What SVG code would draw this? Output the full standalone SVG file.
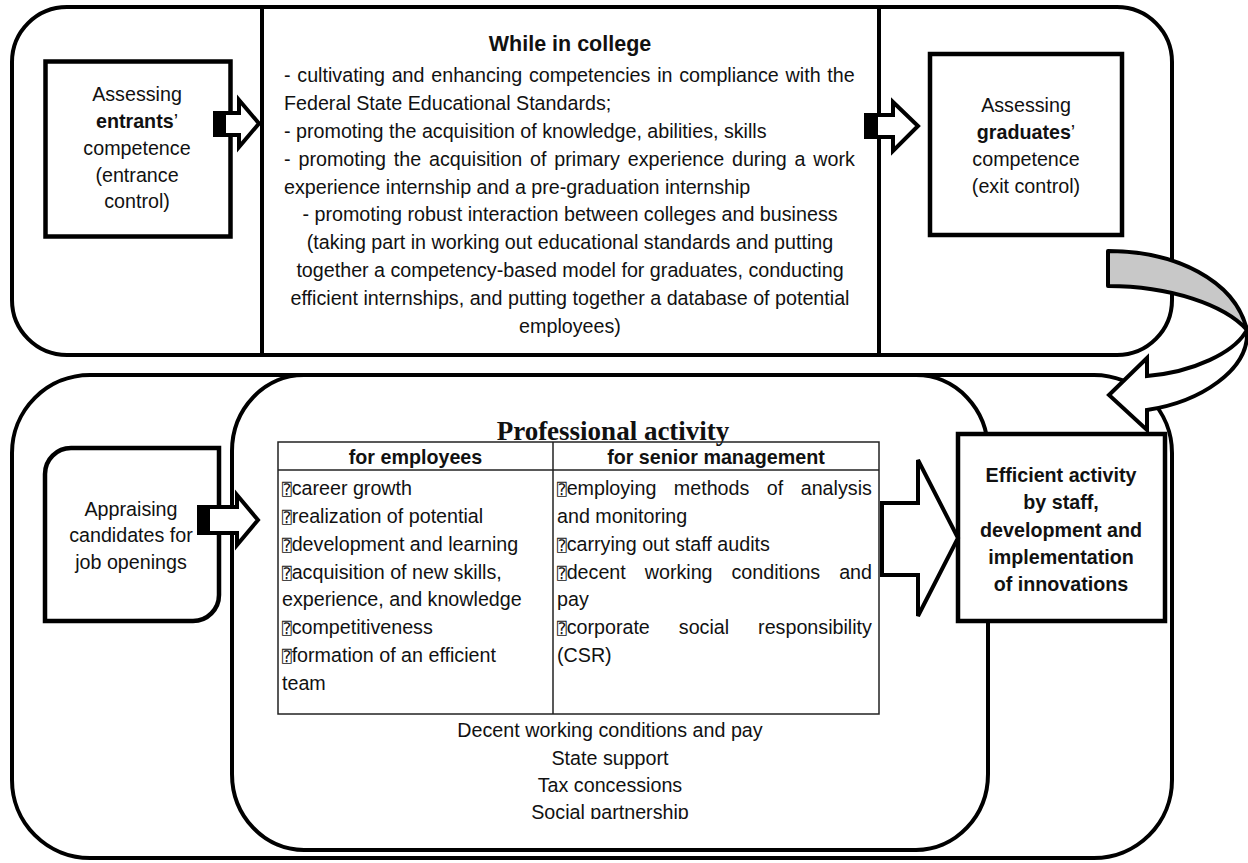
<svg xmlns="http://www.w3.org/2000/svg" width="1248" height="863" viewBox="0 0 1248 863">
  <style>
    .frame { fill: #fff; stroke: #000; stroke-width: 4; }
    .box { fill: #fff; stroke: #000; stroke-width: 4.5; }
    .grid { fill: none; stroke: #222; stroke-width: 1.5; }
    .arrow { fill: #fff; stroke: #000; stroke-width: 4; stroke-linejoin: miter; }
    .t { font-family: "Liberation Sans", Arial, sans-serif; font-size: 19.7px; fill: #111; }
    .b { font-weight: bold; }
    .c { text-anchor: middle; }
    .e { text-anchor: end; }
    .serif { font-family: "Liberation Serif", "Times New Roman", serif; font-weight: bold; font-size: 27px; fill: #111; }
    .g { font-family: "DejaVu Sans Mono", "DejaVu Sans", monospace; font-size: 16px; font-weight: normal; }
  </style>
  <defs>
    <clipPath id="innerClip">
      <rect x="232" y="375" width="756" height="444"/>
    </clipPath>
  </defs>

  <rect width="1248" height="863" fill="#fff"/>

  <!-- upper band: college stage -->
  <g id="college-stage">
    <rect class="frame" x="12" y="7" width="1160" height="348" rx="55" ry="55"/>
    <line x1="262" y1="7" x2="262" y2="355" stroke="#000" stroke-width="4"/>
    <line x1="879" y1="7" x2="879" y2="355" stroke="#000" stroke-width="4"/>
  </g>

  <g id="entrants">
    <rect class="box" x="45.5" y="61.5" width="185" height="175"/>
    <text class="t c" x="137" y="101">Assessing</text>
    <text class="t c" x="137" y="128"><tspan class="b">entrants</tspan>’</text>
    <text class="t c" x="137" y="155">competence</text>
    <text class="t c" x="137" y="182">(entrance</text>
    <text class="t c" x="137" y="208">control)</text>
  </g>

  <g id="while-in-college">
    <text class="t b c" x="570" y="51" style="font-size:21.5px">While in college</text>
    <text class="t" x="284" y="82" word-spacing="1.3">- cultivating and enhancing competencies in compliance with the</text>
    <text class="t" x="284" y="110">Federal State Educational Standards;</text>
    <text class="t" x="284" y="138">- promoting the acquisition of knowledge, abilities, skills</text>
    <text class="t" x="284" y="166" word-spacing="2.4">- promoting the acquisition of primary experience during a work</text>
    <text class="t" x="284" y="194">experience internship and a pre-graduation internship</text>
    <text class="t c" x="570" y="221">- promoting robust interaction between colleges and business</text>
    <text class="t c" x="570" y="249">(taking part in working out educational standards and putting</text>
    <text class="t c" x="570" y="277">together a competency-based model for graduates, conducting</text>
    <text class="t c" x="570" y="305">efficient internships, and putting together a database of potential</text>
    <text class="t c" x="570" y="333">employees)</text>
  </g>

  <g id="graduates">
    <rect class="box" x="930" y="54" width="192" height="181"/>
    <text class="t c" x="1026" y="112">Assessing</text>
    <text class="t c" x="1026" y="139"><tspan class="b">graduates</tspan>’</text>
    <text class="t c" x="1026" y="166">competence</text>
    <text class="t c" x="1026" y="193">(exit control)</text>
  </g>

  <!-- lower band: working life -->
  <g id="work-stage">
    <rect class="frame" x="12" y="375" width="1160" height="483" rx="78" ry="78"/>
  </g>

  <g id="appraising">
    <path class="box" d="M45,474 A26,26 0 0 1 71,448 H219 V595 A26,26 0 0 1 193,621 H45 Z"/>
    <text class="t c" x="131" y="516">Appraising</text>
    <text class="t c" x="131" y="542">candidates for</text>
    <text class="t c" x="131" y="569">job openings</text>
  </g>

  <g id="professional-activity">
    <rect class="frame" x="232" y="375" width="756" height="475" rx="72" ry="76"/>
    <text class="serif c" x="613" y="440">Professional activity</text>
    <rect class="grid" x="278" y="442" width="601" height="272"/>
    <line class="grid" x1="278" y1="470" x2="879" y2="470"/>
    <line class="grid" x1="553" y1="442" x2="553" y2="714"/>
    <text class="t b c" x="415.5" y="464">for employees</text>
    <text class="t b c" x="716" y="464">for senior management</text>

    <text class="t" x="282" y="495"><tspan class="g">⍰</tspan>career growth</text>
    <text class="t" x="282" y="523"><tspan class="g">⍰</tspan>realization of potential</text>
    <text class="t" x="282" y="551"><tspan class="g">⍰</tspan>development and learning</text>
    <text class="t" x="282" y="579"><tspan class="g">⍰</tspan>acquisition of new skills,</text>
    <text class="t" x="282" y="606">experience, and knowledge</text>
    <text class="t" x="282" y="634"><tspan class="g">⍰</tspan>competitiveness</text>
    <text class="t" x="282" y="662"><tspan class="g">⍰</tspan>formation of an efficient</text>
    <text class="t" x="282" y="690">team</text>

    <text class="t" x="557" y="495" word-spacing="12"><tspan class="g">⍰</tspan>employing methods of analysis</text>
    <text class="t" x="557" y="523">and monitoring</text>
    <text class="t" x="557" y="551"><tspan class="g">⍰</tspan>carrying out staff audits</text>
    <text class="t" x="557" y="579" word-spacing="13.5"><tspan class="g">⍰</tspan>decent working conditions and</text>
    <text class="t" x="557" y="606">pay</text>
    <text class="t" x="557" y="634" word-spacing="23.5"><tspan class="g">⍰</tspan>corporate social responsibility</text>
    <text class="t" x="557" y="662">(CSR)</text>

    <g clip-path="url(#innerClip)">
      <text class="t c" x="610" y="737">Decent working conditions and pay</text>
      <text class="t c" x="610" y="765">State support</text>
      <text class="t c" x="610" y="792">Tax concessions</text>
      <text class="t c" x="610" y="819">Social partnership</text>
    </g>
  </g>

  <g id="efficient-activity">
    <rect class="box" x="958" y="434" width="207" height="187"/>
    <text class="t b c" x="1061" y="482">Efficient activity</text>
    <text class="t b c" x="1061" y="509">by staff,</text>
    <text class="t b c" x="1061" y="537">development and</text>
    <text class="t b c" x="1061" y="564">implementation</text>
    <text class="t b c" x="1061" y="591">of innovations</text>
  </g>

  <g id="connectors">
    <!-- entrants to college -->
    <path class="arrow" d="M215,113 H239 V100 L259,123.5 L239,147 V135 H215 Z"/>
    <rect x="215" y="113" width="11" height="22" fill="#000"/>
    <!-- college to graduates -->
    <path class="arrow" d="M866,115 H893 V102 L918,126 L893,151 V137 H866 Z"/>
    <rect x="866" y="115" width="12" height="22" fill="#000"/>
    <!-- appraising to professional activity -->
    <path class="arrow" d="M199,507 H237 V495 L258,520 L237,545 V533 H199 Z"/>
    <rect x="199" y="507" width="11" height="26" fill="#000"/>
    <!-- professional activity to efficient activity -->
    <path class="arrow" d="M882,503 H918 V460 L958,538 L918,616 V575 H882 Z"/>
    <!-- curved arrow: graduates down to efficient activity -->
    <path d="M1108,251 C1175,251 1235,280 1247,330 C1225,305 1170,286 1108,286 Z" fill="#c8c8c8" stroke="#000" stroke-width="4" stroke-linejoin="round"/>
    <path class="arrow" d="M1247,330 C1250,370 1200,402 1147,410 L1147,430 L1109,395 L1147,358 L1147,376 C1195,372 1233,352 1245,333 Z"/>
  </g>
</svg>
